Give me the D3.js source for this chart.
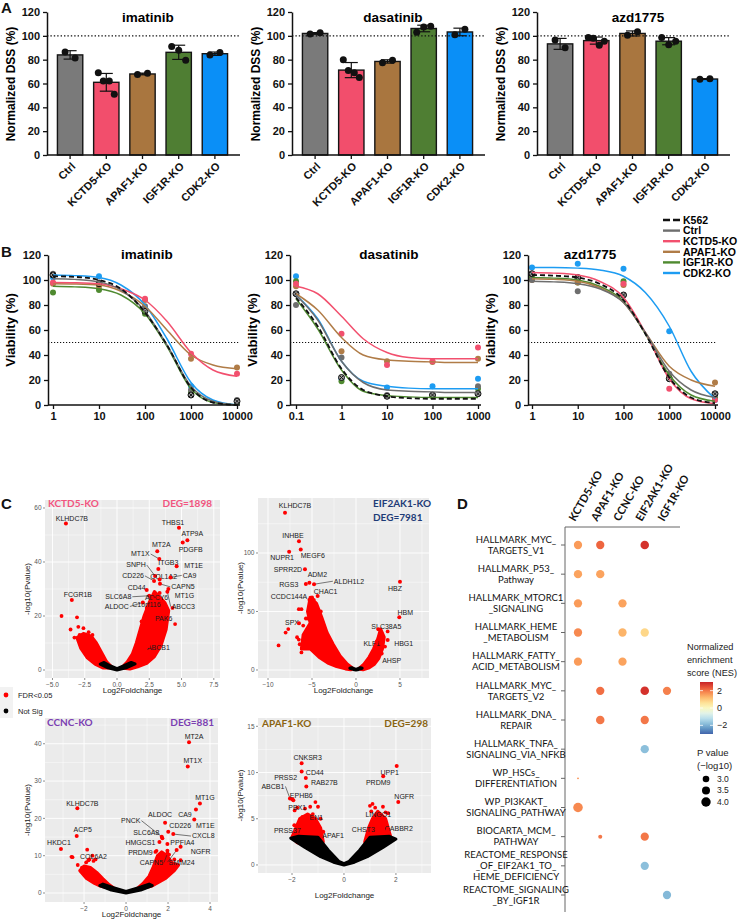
<!DOCTYPE html>
<html>
<head>
<meta charset="utf-8">
<script src="https://cdnjs.cloudflare.com/ajax/libs/d3/7.8.5/d3.min.js"></script>
<style>
  body { margin: 0; background: #fff; }
  svg { display: block; font-family: "Liberation Sans", Arial, sans-serif; }
</style>
</head>
<body>
<svg id="fig" width="740" height="924"></svg>
<script>
// ---------------- data: panel A ----------------
const groups = ["Ctrl", "KCTD5-KO", "APAF1-KO", "IGF1R-KO", "CDK2-KO"];
const groupColors = ["#7a7a7a", "#f24e6c", "#a9763f", "#4f7e33", "#0a8ff7"];
const dssTicks = [0, 20, 40, 60, 80, 100, 120];
const dssImatinib = [[86.5, 81.5], [69, 62, 62, 51], [67.5, 68.5], [91, 88, 79.5], [84, 86]];
const dssDasatinib = [[101.5, 102.5], [80, 71, 69, 65], [77.5, 79.5], [103, 107.5, 108], [101, 105.5]];
const dssAzd = [[96.5, 90], [98.5, 98, 92, 95.5], [100.5, 103.5], [98.5, 92.5, 95.5], [63.5, 64]];

// ---------------- data: panel B ----------------
const cellLines = ["K562", "Ctrl", "KCTD5-KO", "APAF1-KO", "IGF1R-KO", "CDK2-KO"];
const lineColors = ["#111111", "#6e6e6e", "#f2506e", "#b07c47", "#4f8a30", "#1d9cf2"];
const viaTicks = [0, 20, 40, 60, 80, 100, 120];

const imaDoses = [1, 10, 100, 1000, 10000];
const imaFitDoses = [1, 3, 10, 30, 100, 300, 1000, 3000, 10000];
const imaFit = [
  [103, 102.5, 100, 93, 74, 48, 14, 2, 0],
  [101, 100.5, 98.5, 92, 75, 48, 15, 3, 0],
  [98, 97.8, 97, 93, 84, 67, 42, 28, 23],
  [97, 96.8, 96, 91, 79, 60, 40, 32, 29],
  [95, 94.5, 93, 88, 73, 47, 13, 2, 0],
  [104, 103.5, 102, 96, 80, 53, 18, 4, 0]
];
const imaDots = [
  [104, 97, 75, 8, 3],
  [105, 98, 79, 12, 4],
  [98, 97, 85, 41, 25],
  [97, 95, 84, 37, 30],
  [90, 92, 73, 10, 2],
  [102, 103, 76, 15, 2]
];

const dasDoses = [0.1, 1, 10, 100, 1000];
const dasFitDoses = [0.1, 0.3, 1, 3, 10, 30, 100, 300, 1000];
const dasFit = [
  [86, 63, 29, 12, 7, 5.5, 5, 5, 5],
  [88, 68, 35, 18, 12, 11, 10.5, 10, 10],
  [95, 89, 71, 53, 42, 38, 37, 37, 37],
  [89, 76, 54, 40, 36, 35, 34.5, 34, 34],
  [85, 61, 28, 11, 7.5, 6.5, 6, 6, 6],
  [88, 69, 35, 19, 15, 13.5, 13, 13, 13]
];
const dasDots = [
  [89, 22, 7, 8, 9],
  [80, 38, 8, 8, 15],
  [97, 57, 32, 35, 46],
  [95, 43, 35, 34.5, 37],
  [99, 19, 7, 7, 13],
  [103, 21, 14, 15, 21]
];

const azdDoses = [1, 10, 100, 1000, 10000];
const azdFitDoses = [1, 3, 10, 30, 100, 300, 1000, 3000, 10000];
const azdFit = [
  [104, 103.5, 102, 97, 84, 57, 22, 6, 1.5],
  [99, 98.5, 97, 93, 82, 58, 27, 12, 6],
  [106, 105.5, 104, 99, 86, 58, 21, 5, 1],
  [101, 100.5, 99, 94, 82, 58, 31, 20, 15],
  [102, 101.5, 100, 95, 83, 57, 24, 8, 3],
  [110, 110, 109.5, 108, 103, 90, 63, 27, 5]
];
const azdDots = [
  [105, 102, 88, 21, 9],
  [100, 91, 88, 25, 8],
  [105, 101, 97, 13, 4],
  [100, 98, 96, 22, 18],
  [102, 98, 99, 22, 6],
  [110, 113, 109, 59, 4]
];

// ---------------- data: panel C (volcano clouds = hand-read outlines) ----------------
const kctd5Red = [
  [[0.35,0.8],[0.8,3],[1.2,6],[1.5,10],[1.8,15],[2.1,20],[2.5,25],[2.9,29],[3.3,27],[3.7,25],[4.0,22],[3.8,15],[3.4,9],[2.9,5],[2.3,2.5],[1.6,1.2],[1.0,0.4]],
  [[-0.35,0.8],[-0.8,3],[-1.2,6.5],[-1.6,10],[-2.0,12.5],[-2.6,13.5],[-3.1,12],[-2.8,8],[-2.3,4.5],[-1.7,2.2],[-1.1,0.8]]
];
const kctd5Pts = [[-4.3,20],[-3.6,15],[-3.1,19.5],[-3.0,16],[-2.6,15.5],[-2.2,14],[-1.9,13],[-2.9,13],[-3.3,12],[1.9,18],[2.3,23],[2.6,27],[3.0,25],[3.4,24],[3.8,22],[4.3,23],[4.5,17],[2.8,21],[3.2,16]];
const kctd5Black = [[-1.3,2.2],[-0.7,0.8],[0,0],[0.7,0.8],[1.4,2.3],[1.1,2.8],[0.5,1.5],[0,0.5],[-0.5,1.5],[-1.0,2.8]];
const kctd5Genes = [["KLHDC7B",-3.96,54.3],["THBS1",4.8,52.7],["ATP9A",5.45,48.1],["PDGFB",5.09,47.2],["MT2A",3.12,44],["MT1X",3.28,41.1],["ITGB3",3.2,37.4],["MT1E",4.62,38.4],["SNPH",2.95,34.8],["COL1A2",3.3,33.5],["CA9",4.15,34.3],["CD226",2.87,33.0],["CAPN5",3.33,31.9],["CD44",2.3,29.6],["SLC6A8",2.5,27.5],["ADCY6",3.3,28.5],["MT1G",3.98,30],["ABCC3",3.9,29],["ALDOC",2.0,25],["C1orf116",2.9,26],["PAK6",3.07,21],["ABCB1",2.43,8.9],["FCGR1B",-3.5,25.9]];
const kctd5Tags = [[6,-5],[-6,-5],[5,-7],[8,7],[4,-7],[-19,-5,1],[10,-6],[17,-1],[-19,-11,1],[4,-3],[19,-2,1],[-21,-5,1],[23,3,1],[-10,-3],[-31,1,1],[-3,4],[16,7],[16,15,1],[-26,4,1],[-8,5],[7,5],[10,2],[6,-6]];

const eifRed = [
  [[-0.3,1],[-1,5],[-1.8,12],[-2.6,22],[-3.3,32],[-3.9,45],[-4.5,57],[-5.2,62],[-5.5,50],[-5.2,40],[-6.0,30],[-6.2,18],[-5.2,18],[-4.2,11],[-3.2,6],[-2.2,3],[-1.2,1],[-0.6,0.2]],
  [[0.3,1],[0.9,5],[1.5,11],[2.0,18],[2.5,27],[2.8,35],[3.2,28],[3.0,18],[2.6,10],[2.1,5],[1.5,2],[0.8,0.3]]
];
const eifPts = [[-8.8,21],[-8,32],[-7.7,35],[-6.5,52],[-6.2,52],[-6.7,28],[-6.4,22],[-6.2,15],[-5.8,25],[-5.7,44],[-5.5,44],[-5,33],[-5,47],[-4.7,52],[-4.5,42],[-5.3,60],[-5.0,62],[-4.8,60],[-6,38],[-6.5,26],[-4.2,45],[-4,50],[3.6,33],[3.0,26],[3.3,20],[2.7,18]];
const eifBlack = [[-0.7,1.5],[-0.3,0.5],[0,0],[0.3,0.5],[0.7,1.5],[0.5,2],[0,0.6],[-0.5,2]];
const eifGenes = [["KLHDC7B",-8.07,134.5],["INHBE",-6.48,110],["NUPR1",-7.6,101],["MEGF6",-6.28,103],["SPRR2D",-5.8,86],["ADM2",-5.3,74.6],["RGS3",-5.7,73.5],["ALDH1L2",-4.77,73.3],["CHAC1",-4.36,63.2],["CCDC144A",-5.0,61.3],["SPX",-6.48,40],["HBZ",5.0,75.5],["HBM",4.92,45],["SLC38A5",2.54,34.8],["KLF1",2.36,24.2],["HBG1",3.6,25.6],["AHSP",2.92,14.2]];
const eifTags = [[10,-7],[-6,-6],[-7,6],[12,6],[-17,0],[8,-8],[-17,1],[35,-3,1],[8,-4],[-23,-2],[-7,-1],[-5,7],[6,-5],[8,-3],[-5,2],[16,4],[10,7]];

const ccncRed = [
  [[-0.45,0.8],[-0.8,2.2],[-1.1,3.8],[-1.4,5.5],[-1.7,6.8],[-2.0,7.2],[-2.2,6],[-1.9,4],[-1.5,2.6],[-1.2,1.8]],
  [[0.45,0.8],[0.8,2.5],[1.1,4.5],[1.3,7],[1.5,10],[1.7,11],[1.95,10],[2.2,8],[2.5,7.5],[2.3,6],[1.9,4],[1.5,2.7],[1.2,1.8]]
];
const ccncPts = [[-1.85,11.6],[-1.6,10],[-1.75,9],[-1.45,9],[-1.55,8.6],[-2.6,9.7],[-2.55,9.6],[-2.1,6.8],[-2.0,6.2],[-1.9,8.2],[-2.3,7.5],[1.85,9.8],[2.05,10.3],[2.3,9],[2.6,8.8],[1.6,9],[1.4,11],[1.45,11.3]];
const ccncBlack = [[-1.25,2.0],[-0.7,0.8],[0,0],[0.7,0.8],[1.25,2.0],[1.1,2.4],[0.6,1.4],[0,0.4],[-0.6,1.4],[-1.1,2.4]];
const ccncGenes = [["MT2A",3.0,40.4],["MT1X",2.94,33.9],["MT1G",3.52,24],["CA9",3.33,22.4],["MT1E",3.25,19.7],["ALDOC",1.86,18.8],["PNCK",1.7,15.1],["CD226",2.01,16.4],["SLC6A8",1.73,14.7],["CXCL8",2.25,15.8],["HMGCS1",1.59,13.7],["PPFIA4",1.97,13.1],["NGFR",2.6,12.4],["PRDM9",1.97,11.3],["SMIM24",2.41,11.5],["CAPN5",1.97,10.6],["KLHDC7B",-2.32,22.7],["ACP5",-2.35,15.3],["HKDC1",-3.1,11.8],["COL6A2",-1.79,8.8]];
const ccncTags = [[5,-6],[5,-6],[5,-6],[-11,5],[11,6],[-5,-8],[-31,-16,1],[12,-6],[-16,-6],[30,2,1],[-19,1],[15,-2],[20,5],[-27,2],[5,12,1],[-16,9,1],[5,-5],[6,-6],[-2,-6],[5,-4]];

const apafRed = [
  [[-0.8,2.5],[-0.9,4],[-1.1,5],[-1.4,5.5],[-1.7,5],[-2.0,3],[-1.8,2.4],[-1.3,2.2]],
  [[0.8,2.5],[0.95,4],[1.1,5],[1.3,5.8],[1.6,5],[1.8,3],[1.5,2.3]]
];
const apafPts = [[-1.8,6.2],[-1.9,5.9],[-1.5,6.1],[-1.3,6.3],[-1.1,6.8],[-1.0,6.3],[-1.2,5.5],[-1.4,5],[-1.6,5.2],[-0.9,5.0],[1.0,6.4],[1.1,6.6],[1.2,6.2],[1.3,5.6],[1.5,6.3],[1.6,5.7],[1.4,5.2],[1.05,5.8],[1.7,5.6],[1.2,4.8]];
const apafBlack = [[-2.05,2.9],[-1.5,1.9],[-0.9,0.9],[-0.4,0.3],[0,0],[0.4,0.3],[0.9,0.9],[1.5,1.9],[2.0,2.8],[1.75,3.1],[1.0,3.0],[0.6,1.6],[0.2,0.4],[0,0.15],[-0.2,0.4],[-0.6,1.6],[-1.0,3.0],[-1.75,3.1]];
const apafGenes = [["CNKSR3",-1.63,11.0],["PRSS2",-1.63,10.1],["CD44",-1.47,9.4],["RAB27B",-1.45,8.5],["ABCB1",-2.08,7.2],["EPHB6",-1.99,7.1],["PBX1",-1.95,7.0],["EN1",-1.18,4.6],["PRSS37",-1.91,4.3],["APAF1",-0.8,3.6],["UPP1",2.03,10.7],["PRDM9",1.51,9.6],["NGFR",2.09,6.8],["LINGO1",1.32,5.0],["CHST3",1.13,4.4],["GABBR2",1.68,3.8]];
const apafTags = [[6,-6],[-16,6],[9,-6],[18,-4],[-17,-12,1],[9,-4],[4,7],[3,-5],[-7,5],[10,4],[-7,6],[-5,6],[6,-6],[0,-4],[-10,5],[11,-1]];

// ---------------- data: panel D ----------------
const koCols = ["KCTD5-KO", "APAF1-KO", "CCNC-KO", "EIF2AK1-KO", "IGF1R-KO"];
const pathwayLabels = [
  ["HALLMARK_MYC_", "TARGETS_V1"], ["HALLMARK_P53_", "Pathway"], ["HALLMARK_MTORC1", "_SIGNALING"],
  ["HALLMARK_HEME", "_METABOLISM"], ["HALLMARK_FATTY_", "ACID_METABOLISM"], ["HALLMARK_MYC_", "TARGETS_V2"],
  ["HALLMARK_DNA_", "REPAIR"], ["HALLMARK_TNFA_", "SIGNALING_VIA_NFKB"], ["WP_HSCs_", "DIFFERENTIATION"],
  ["WP_PI3KAKT_", "SIGNALING_PATHWAY"], ["BIOCARTA_MCM_", "PATHWAY"],
  ["REACTOME_RESPONSE", "_OF_EIF2AK1_TO_", "HEME_DEFICIENCY"], ["REACTOME_SIGNALING", "_BY_IGF1R"]
];
// [row, column, NES, -log10 P]
const enrich = [
  [0,"KCTD5-KO",1.6,3.6],[0,"APAF1-KO",2.2,3.6],[0,"EIF2AK1-KO",2.8,3.7],
  [1,"KCTD5-KO",1.5,3.6],[1,"APAF1-KO",1.5,3.6],
  [2,"KCTD5-KO",1.6,3.6],[2,"CCNC-KO",1.5,3.6],
  [3,"KCTD5-KO",1.8,3.6],[3,"CCNC-KO",1.3,3.6],[3,"EIF2AK1-KO",0.8,3.6],
  [4,"KCTD5-KO",1.6,3.6],[4,"CCNC-KO",1.5,3.6],
  [5,"APAF1-KO",2.1,3.6],[5,"EIF2AK1-KO",2.8,3.7],[5,"IGF1R-KO",1.9,3.6],
  [6,"APAF1-KO",2.0,3.7],[6,"EIF2AK1-KO",2.0,3.6],
  [7,"EIF2AK1-KO",-1.8,3.6],
  [8,"KCTD5-KO",1.7,1.3],
  [9,"KCTD5-KO",1.8,4.05],
  [10,"APAF1-KO",2.0,2.1],[10,"EIF2AK1-KO",2.0,3.6],
  [11,"EIF2AK1-KO",-1.8,3.6],
  [12,"IGF1R-KO",-1.9,3.6]
];
const nesTicks = [2, 0, -2];
const pvalTicks = [3.0, 3.5, 4.0];

// ---------------- drawing ----------------
const svg = d3.select("#fig");
svg.append("rect").attr("width", 740).attr("height", 924).attr("fill", "#fff");

function letter(t, x, y) {
  svg.append("text").attr("x", x).attr("y", y).text(t)
    .attr("font-weight", "bold").attr("font-size", 15).attr("fill", "#111");
}

function boldAxis(sel, fs) {
  sel.attr("font-family", "Liberation Sans, Arial, sans-serif").attr("font-size", fs).attr("font-weight", "bold");
  sel.select(".domain").attr("stroke", "#111").attr("stroke-width", 1.5);
  sel.selectAll(".tick line").attr("stroke", "#111").attr("stroke-width", 1.3);
  sel.selectAll(".tick text").attr("fill", "#111");
}

const jitter = { 2: [-5, 5], 3: [-7, 0, 7], 4: [-8, -3, 3, 8] };

function barPanel(ox, title, reps) {
  const g = svg.append("g");
  const y = d3.scaleLinear().domain([0, 120]).range([155, 12]);
  const x = d3.scaleBand().domain(groups).range([ox + 52, ox + 233]).paddingInner(0.3).paddingOuter(0.15);

  g.selectAll("rect.bar").data(reps).join("rect").attr("class", "bar")
    .attr("x", (d, i) => x(groups[i])).attr("width", x.bandwidth())
    .attr("y", d => y(d3.mean(d))).attr("height", d => y(0) - y(d3.mean(d)))
    .attr("fill", (d, i) => groupColors[i]).attr("stroke", "#151515").attr("stroke-width", 1.4);

  g.append("line").attr("x1", ox + 47).attr("x2", ox + 240).attr("y1", y(100)).attr("y2", y(100))
    .attr("stroke", "#111").attr("stroke-width", 1.4).attr("stroke-dasharray", "1.4,2");

  reps.forEach((r, i) => {
    const cx = x(groups[i]) + x.bandwidth() / 2;
    const m = d3.mean(r), s = d3.deviation(r);
    g.append("line").attr("x1", cx).attr("x2", cx).attr("y1", y(m + s)).attr("y2", y(m - s))
      .attr("stroke", "#111").attr("stroke-width", 1.2);
    [m + s, m - s].forEach(v => g.append("line").attr("x1", cx - 6.5).attr("x2", cx + 6.5)
      .attr("y1", y(v)).attr("y2", y(v)).attr("stroke", "#111").attr("stroke-width", 1.2));
    const offs = jitter[r.length];
    r.forEach((v, j) => g.append("circle").attr("cx", cx + offs[j]).attr("cy", y(v)).attr("r", 3.5).attr("fill", "#111"));
  });

  const ya = g.append("g").attr("transform", `translate(${ox + 47},0)`)
    .call(d3.axisLeft(y).tickValues(dssTicks).tickSize(4).tickSizeOuter(0));
  boldAxis(ya, 11);

  g.append("line").attr("x1", ox + 47).attr("x2", ox + 240).attr("y1", y(0)).attr("y2", y(0))
    .attr("stroke", "#111").attr("stroke-width", 1.5);
  groups.forEach((gname, i) => {
    const cx = x(gname) + x.bandwidth() / 2;
    g.append("line").attr("x1", cx).attr("x2", cx).attr("y1", y(0)).attr("y2", y(0) + 4)
      .attr("stroke", "#111").attr("stroke-width", 1.3);
    g.append("text").attr("transform", `translate(${cx + 6},${167}) rotate(-45)`)
      .attr("text-anchor", "end").attr("font-weight", "bold").attr("font-size", 11).attr("fill", "#111").text(gname);
  });

  g.append("text").attr("x", ox + 148).attr("y", 22).attr("text-anchor", "middle")
    .attr("font-weight", "bold").attr("font-size", 13.5).text(title);
  g.append("text").attr("transform", `translate(${ox + 15},84) rotate(-90)`).attr("text-anchor", "middle")
    .attr("font-weight", "bold").attr("font-size", 12).text("Normalized DSS (%)");
}

function dosePanel(c) {
  const g = svg.append("g");
  const x = d3.scaleLog().domain(c.domain).range([c.x0, c.x1]);
  const y = d3.scaleLinear().domain([0, 120]).range([405, 255]);
  const line = d3.line().x(d => x(d[0])).y(d => y(d[1])).curve(d3.curveMonotoneX);

  g.append("line").attr("x1", c.axisX).attr("x2", c.x1 + 2).attr("y1", y(50)).attr("y2", y(50))
    .attr("stroke", "#111").attr("stroke-width", 1).attr("stroke-dasharray", "1.2,1.8");

  for (let k = cellLines.length - 1; k >= 0; k--) {
    c.dots[k].forEach((v, j) => {
      const cx = x(c.doses[j]), cy = y(v);
      if (k === 0) {
        g.append("circle").attr("cx", cx).attr("cy", cy).attr("r", 3).attr("fill", "#9a9a9a").attr("stroke", "#111").attr("stroke-width", 1);
        g.append("path").attr("d", `M${cx - 2},${cy - 2}L${cx + 2},${cy + 2}M${cx - 2},${cy + 2}L${cx + 2},${cy - 2}`)
          .attr("stroke", "#111").attr("stroke-width", 0.9);
      } else {
        g.append("circle").attr("cx", cx).attr("cy", cy).attr("r", 3).attr("fill", lineColors[k]);
      }
    });
  }
  for (let k = cellLines.length - 1; k >= 0; k--) {
    g.append("path").datum(c.fit[k].map((v, j) => [c.fitDoses[j], v])).attr("d", line)
      .attr("fill", "none").attr("stroke", lineColors[k])
      .attr("stroke-width", k === 0 ? 1.8 : 1.5)
      .attr("stroke-dasharray", k === 0 ? "5,3" : null);
  }

  const ya = g.append("g").attr("transform", `translate(${c.axisX},0)`)
    .call(d3.axisLeft(y).tickValues(viaTicks).tickSize(4).tickSizeOuter(0));
  boldAxis(ya, 11);
  const xa = g.append("g").attr("transform", "translate(0,405)")
    .call(d3.axisBottom(x).tickValues(c.doses).tickFormat(d3.format("")).tickSize(4).tickSizeOuter(0));
  boldAxis(xa, 11);
  xa.select(".domain").remove();
  g.append("line").attr("x1", c.axisX).attr("x2", c.x1 + 3).attr("y1", 405).attr("y2", 405)
    .attr("stroke", "#111").attr("stroke-width", 1.5);

  g.append("text").attr("x", c.titleX).attr("y", 259).attr("text-anchor", "middle")
    .attr("font-weight", "bold").attr("font-size", 13.5).text(c.title);
  g.append("text").attr("transform", `translate(${c.axisX - 33},330) rotate(-90)`).attr("text-anchor", "middle")
    .attr("font-weight", "bold").attr("font-size", 13).text("Viability (%)");
}

function volcano(c) {
  const g = svg.append("g");
  const x = d3.scaleLinear().domain(c.xd).range([c.l, c.r]);
  const y = d3.scaleLinear().domain(c.yd).range([c.b, c.t]);
  g.append("rect").attr("x", c.l).attr("y", c.t).attr("width", c.r - c.l).attr("height", c.b - c.t).attr("fill", "#ebebeb");
  const xs = c.xt[1] - c.xt[0], ys = c.yt[1] - c.yt[0];
  const xMinor = d3.range(c.xt[0] - xs * 1.5, c.xd[1], xs).filter(v => v > c.xd[0] && v < c.xd[1]);
  const yMinor = d3.range(c.yt[0] - ys * 0.5, c.yd[1], ys).filter(v => v > c.yd[0] && v < c.yd[1]);
  xMinor.forEach(v => g.append("line").attr("x1", x(v)).attr("x2", x(v)).attr("y1", c.t).attr("y2", c.b).attr("stroke", "#fff").attr("stroke-width", 0.45));
  yMinor.forEach(v => g.append("line").attr("y1", y(v)).attr("y2", y(v)).attr("x1", c.l).attr("x2", c.r).attr("stroke", "#fff").attr("stroke-width", 0.45));
  c.xt.forEach(v => g.append("line").attr("x1", x(v)).attr("x2", x(v)).attr("y1", c.t).attr("y2", c.b).attr("stroke", "#fff").attr("stroke-width", 0.9));
  c.yt.forEach(v => g.append("line").attr("y1", y(v)).attr("y2", y(v)).attr("x1", c.l).attr("x2", c.r).attr("stroke", "#fff").attr("stroke-width", 0.9));

  const poly = d3.line().x(d => x(d[0])).y(d => y(d[1])).curve(d3.curveLinearClosed);
  c.red.forEach(p => g.append("path").attr("d", poly(p)).attr("fill", "#f00").attr("stroke", "#f00")
    .attr("stroke-width", 3.2).attr("stroke-linejoin", "round"));
  c.pts.forEach(p => g.append("circle").attr("cx", x(p[0])).attr("cy", y(p[1])).attr("r", 1.9).attr("fill", "#f00"));
  g.append("path").attr("d", poly(c.black)).attr("fill", "#000").attr("stroke", "#000")
    .attr("stroke-width", 3).attr("stroke-linejoin", "round");

  c.genes.forEach((gn, i) => {
    const px = x(gn[1]), py = y(gn[2]);
    const tag = c.tags[i];
    const t = g.append("text").attr("x", px + tag[0]).attr("y", py + tag[1]).attr("dy", "0.35em")
      .attr("text-anchor", "middle").attr("font-size", 7).attr("fill", "#1a1a1a").text(gn[0]);
    if (tag[2]) {
      const w = t.node().getComputedTextLength();
      const ex = tag[0] < 0 ? px + tag[0] + w / 2 + 1 : px + tag[0] - w / 2 - 1;
      g.append("line").attr("x1", px).attr("y1", py).attr("x2", ex).attr("y2", py + tag[1])
        .attr("stroke", "#222").attr("stroke-width", 0.6);
    }
    g.append("circle").attr("cx", px).attr("cy", py).attr("r", 2).attr("fill", "#f00");
  });

  c.xt.forEach(v => {
    g.append("line").attr("x1", x(v)).attr("x2", x(v)).attr("y1", c.b).attr("y2", c.b + 2).attr("stroke", "#444").attr("stroke-width", 0.6);
    g.append("text").attr("x", x(v)).attr("y", c.b + 8.5).attr("text-anchor", "middle").attr("font-size", 6.5).attr("fill", "#555").text(c.xfmt(v));
  });
  c.yt.forEach(v => {
    g.append("line").attr("x1", c.l - 2).attr("x2", c.l).attr("y1", y(v)).attr("y2", y(v)).attr("stroke", "#444").attr("stroke-width", 0.6);
    g.append("text").attr("x", c.l - 3.5).attr("y", y(v)).attr("dy", "0.35em").attr("text-anchor", "end").attr("font-size", 6.5).attr("fill", "#555").text(v);
  });
  g.append("text").attr("x", (c.l + c.r) / 2).attr("y", c.xlabY).attr("text-anchor", "middle").attr("font-size", 8).attr("fill", "#222").text("Log2Foldchange");
  g.append("text").attr("transform", `translate(${c.l - 15},${(c.t + c.b) / 2}) rotate(-90)`).attr("text-anchor", "middle")
    .attr("font-size", 8).attr("fill", "#222").text("-log10(Pvalue)");

  c.heads.forEach(h => g.append("text").attr("x", h[1]).attr("y", h[2]).attr("text-anchor", h[3])
    .attr("font-family", "Lato, 'Open Sans', sans-serif").attr("font-weight", "bold").attr("font-size", 10)
    .attr("fill", c.headColor).text(h[0]));
}

// ---- panel A
letter("A", 1, 13);
barPanel(0, "imatinib", dssImatinib);
barPanel(245, "dasatinib", dssDasatinib);
barPanel(490, "azd1775", dssAzd);

// ---- panel B
letter("B", 1, 257);
dosePanel({ axisX: 48, x0: 53, x1: 237, domain: [1, 10000], doses: imaDoses, fitDoses: imaFitDoses, fit: imaFit, dots: imaDots, title: "imatinib", titleX: 147 });
dosePanel({ axisX: 290, x0: 296, x1: 478, domain: [0.1, 1000], doses: dasDoses, fitDoses: dasFitDoses, fit: dasFit, dots: dasDots, title: "dasatinib", titleX: 389 });
dosePanel({ axisX: 528, x0: 532, x1: 715, domain: [1, 10000], doses: azdDoses, fitDoses: azdFitDoses, fit: azdFit, dots: azdDots, title: "azd1775", titleX: 590 });

const leg = svg.append("g");
cellLines.forEach((n, i) => {
  const yy = 220 + i * 10.6;
  leg.append("line").attr("x1", 663).attr("x2", 680).attr("y1", yy).attr("y2", yy)
    .attr("stroke", lineColors[i]).attr("stroke-width", i === 0 ? 2.6 : 2.4).attr("stroke-dasharray", i === 0 ? "7,3" : null);
  leg.append("text").attr("x", 683).attr("y", yy).attr("dy", "0.36em").attr("font-weight", "bold").attr("font-size", 10.5).text(n);
});

// ---- panel C
letter("C", 1, 509);
const fmt1 = d3.format(".1f");
volcano({ l: 45, r: 220, t: 500, b: 678, xd: [-5.58, 7.98], yd: [-2.96, 62.96], xt: [-5, -2.5, 0, 2.5, 5, 7.5], yt: [0, 20, 40, 60], xfmt: fmt1,
  red: kctd5Red, pts: kctd5Pts, black: kctd5Black, genes: kctd5Genes, tags: kctd5Tags, xlabY: 693,
  headColor: "#f2557f", heads: [["KCTD5-KO", 48, 507, "start"], ["DEG=1898", 212, 507, "end"]] });
volcano({ l: 258, r: 429, t: 498, b: 678, xd: [-11.14, 8.3], yd: [-6.84, 147], xt: [-10, -5, 0, 5], yt: [0, 50, 100], xfmt: d3.format("d"),
  red: eifRed, pts: eifPts, black: eifBlack, genes: eifGenes, tags: eifTags, xlabY: 693,
  headColor: "#1e3b77", heads: [["EIF2AK1-KO", 373, 507, "start"], ["DEG=7981", 373, 521, "start"]] });
volcano({ l: 45, r: 218, t: 718, b: 902, xd: [-3.86, 4.38], yd: [-2.41, 46.9], xt: [-2, 0, 2, 4], yt: [0, 10, 20, 30, 40], xfmt: d3.format("d"),
  red: ccncRed, pts: ccncPts, black: ccncBlack, genes: ccncGenes, tags: ccncTags, xlabY: 917,
  headColor: "#7b3fb2", heads: [["CCNC-KO", 47, 726, "start"], ["DEG=881", 214, 726, "end"]] });
volcano({ l: 258, r: 431, t: 718, b: 873, xd: [-3.31, 3.35], yd: [-0.87, 15.9], xt: [-2, 0, 2], yt: [0, 5, 10, 15], xfmt: d3.format("d"),
  red: apafRed, pts: apafPts, black: apafBlack, genes: apafGenes, tags: apafTags, xlabY: 898,
  headColor: "#8a6412", heads: [["APAF1-KO", 262, 727, "start"], ["DEG=298", 428, 727, "end"]] });

// volcano legend
const vl = svg.append("g");
vl.append("rect").attr("x", 0).attr("y", 687).attr("width", 13).attr("height", 31).attr("fill", "#f2f2f2");
[["FDR<0.05", "#f00", 695], ["Not Sig", "#000", 711]].forEach(d => {
  vl.append("circle").attr("cx", 6).attr("cy", d[2]).attr("r", 2.4).attr("fill", d[1]);
  vl.append("text").attr("x", 18).attr("y", d[2]).attr("dy", "0.35em").attr("font-size", 7.5).attr("fill", "#222").text(d[0]);
});

// ---- panel D
letter("D", 457, 509);
const gD = svg.append("g");
const colX = d3.scalePoint().domain(koCols).range([578, 667]);
const rowY = d3.scalePoint().domain(d3.range(pathwayLabels.length)).range([545, 895]);
const nesColor = d3.scaleSequential(t => d3.interpolateRdYlBu(1 - t)).domain([-3.5, 3.5]);
const pSize = d3.scaleLinear().domain([1.5, 4]).range([1.2, 4.7]);

gD.append("line").attr("x1", 565).attr("x2", 565).attr("y1", 527).attr("y2", 912).attr("stroke", "#666").attr("stroke-width", 1);
gD.append("line").attr("x1", 565).attr("x2", 680).attr("y1", 527).attr("y2", 527).attr("stroke", "#666").attr("stroke-width", 1);
pathwayLabels.forEach((lines, i) => {
  const y0 = rowY(i);
  gD.append("line").attr("x1", 561).attr("x2", 565).attr("y1", y0).attr("y2", y0).attr("stroke", "#666").attr("stroke-width", 1);
  const start = lines.length === 3 ? -11 : -5.5;
  lines.forEach((s, j) => gD.append("text").attr("x", 516).attr("y", y0 + start + j * 11).attr("dy", "0.35em")
    .attr("text-anchor", "middle").attr("font-family", "Lato, 'Open Sans', sans-serif").attr("font-size", 9.5)
    .attr("fill", "#111").text(s));
});
koCols.forEach(k => gD.append("text").attr("transform", `translate(${colX(k) - 3},522) rotate(-60)`)
  .attr("font-family", "Lato, 'Open Sans', sans-serif").attr("font-weight", "bold").attr("font-size", 11).attr("fill", "#111").text(k));
gD.selectAll("circle.dot").data(enrich).join("circle").attr("class", "dot")
  .attr("cx", d => colX(d[1])).attr("cy", d => rowY(d[0])).attr("r", d => pSize(d[3]))
  .attr("fill", d => nesColor(d[2]));

// colour bar
const cbY = d3.scaleLinear().domain([-3, 3]).range([734, 682]);
const defs = svg.append("defs");
const grad = defs.append("linearGradient").attr("id", "nesGrad").attr("x1", 0).attr("x2", 0).attr("y1", 1).attr("y2", 0);
d3.range(0, 1.001, 0.1).forEach(t => grad.append("stop").attr("offset", t).attr("stop-color", nesColor(-3 + 6 * t)));
gD.append("rect").attr("x", 700).attr("y", 682).attr("width", 13).attr("height", 52).attr("fill", "url(#nesGrad)");
nesTicks.forEach(v => {
  gD.append("line").attr("x1", 700).attr("x2", 703).attr("y1", cbY(v)).attr("y2", cbY(v)).attr("stroke", "#fff").attr("stroke-width", 0.8);
  gD.append("line").attr("x1", 710).attr("x2", 713).attr("y1", cbY(v)).attr("y2", cbY(v)).attr("stroke", "#fff").attr("stroke-width", 0.8);
  gD.append("text").attr("x", 717).attr("y", cbY(v)).attr("dy", "0.35em").attr("font-size", 9).attr("fill", "#222")
    .text(v < 0 ? "\u2212" + Math.abs(v) : v);
});
["Normalized", "enrichment", "score (NES)"].forEach((s, j) => gD.append("text").attr("x", 687).attr("y", 647 + j * 13)
  .attr("dy", "0.35em").attr("font-size", 9.2).attr("fill", "#222").text(s));
["P value", "(\u2212log10)"].forEach((s, j) => gD.append("text").attr("x", 697).attr("y", 753 + j * 13)
  .attr("dy", "0.35em").attr("font-size", 9.5).attr("fill", "#222").text(s));
pvalTicks.forEach((v, j) => {
  const yy = 779 + j * 11.5;
  gD.append("circle").attr("cx", 706).attr("cy", yy).attr("r", pSize(v)).attr("fill", "#000");
  gD.append("text").attr("x", 717).attr("y", yy).attr("dy", "0.35em").attr("font-size", 8.5).attr("fill", "#222").text(d3.format(".1f")(v));
});
</script>
</body>
</html>
